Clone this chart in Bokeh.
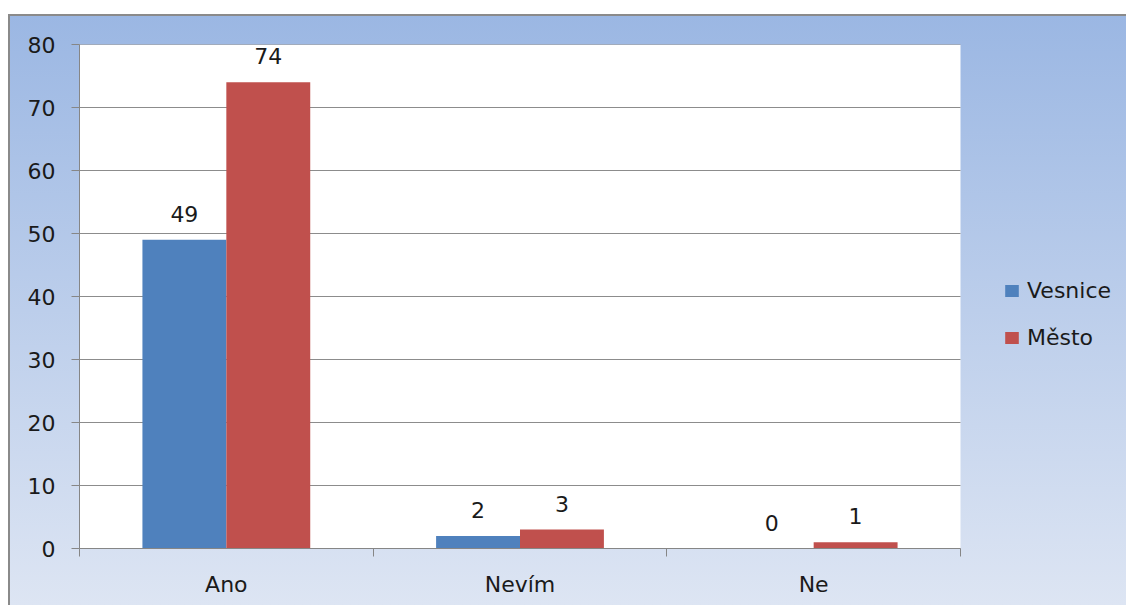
from bokeh.plotting import figure
from bokeh.models import (Range1d, FixedTicker, LabelSet, ColumnDataSource,
                          Legend, LegendItem, BoxAnnotation)
from bokeh.core.properties import value
from bokeh.embed import file_html
from bokeh.resources import INLINE

# Survey answers by place of residence
categories = ["Ano", "Nevím", "Ne"]
vesnice = [49, 2, 0]
mesto = [74, 3, 1]
series_names = ["Vesnice", "Město"]
y_ticks = [0, 10, 20, 30, 40, 50, 60, 70, 80]

BLUE = "#4F81BD"
RED = "#C0504D"
GRID = "#8c8c8c"
FONT = "DejaVu Sans"
FS = "22px"
BAR_W = 1 / 3.5  # two bars per category, gap of 1.5 bar widths

n = len(categories)
centers = [i + 0.5 for i in range(n)]
x_v = [c - BAR_W / 2 for c in centers]
x_m = [c + BAR_W / 2 for c in centers]

src_v = ColumnDataSource(dict(x=x_v, y=vesnice, lab=[str(v) for v in vesnice]))
src_m = ColumnDataSource(dict(x=x_m, y=mesto, lab=[str(v) for v in mesto]))

# the frame runs to the right edge so the legend can sit beside the plot area;
# the categories occupy the first 881 of its 1049 pixels
FRAME_W, AREA_W = 1049, 881
p = figure(width=1118, height=591, output_backend="svg", toolbar_location=None,
           x_range=Range1d(0, n * FRAME_W / AREA_W), y_range=Range1d(0, 80),
           min_border_left=69, min_border_top=28, min_border_right=0,
           min_border_bottom=59)
p.styles = {
    "margin": "14px 0 0 8px",
    "border-top": "2px solid #8a8a8a",
    "border-left": "2px solid #8a8a8a",
    "background": "linear-gradient(to bottom, #9bb7e3 0%, #dde5f3 100%)",
}
p.border_fill_color = None
p.background_fill_color = None
p.outline_line_color = None
p.xgrid.grid_line_color = None
p.ygrid.grid_line_color = None

# white plot area
p.add_layout(BoxAnnotation(left=0, right=n, bottom=0, top=80, fill_color="white",
                           fill_alpha=1, line_color=None, level="underlay"))

# horizontal gridlines across the plot area
p.segment(x0=[0] * len(y_ticks), x1=[n] * len(y_ticks), y0=y_ticks, y1=y_ticks,
          line_color=GRID, line_width=1)

rv = p.vbar(x="x", top="y", width=BAR_W, source=src_v, fill_color=BLUE, line_color=None)
rm = p.vbar(x="x", top="y", width=BAR_W, source=src_m, fill_color=RED, line_color=None)

for src in (src_v, src_m):
    p.add_layout(LabelSet(x="x", y="y", text="lab", source=src, y_offset=18,
                          text_align="center", text_baseline="alphabetic",
                          text_font=value(FONT), text_font_size=value(FS),
                          text_color="#1a1a1a"))

# y axis
p.yaxis.ticker = FixedTicker(ticks=y_ticks)
p.yaxis.axis_line_color = "#868686"
p.yaxis.major_tick_line_color = "#868686"
p.yaxis.major_tick_out = 8
p.yaxis.major_tick_in = 0
p.yaxis.minor_tick_line_color = None
p.yaxis.major_label_standoff = 16
p.yaxis.major_label_text_font = FONT
p.yaxis.major_label_text_font_size = FS
p.yaxis.major_label_text_color = "#1a1a1a"

# x axis: labels at category centres, tick marks on category boundaries
p.xaxis.bounds = (0, n)
p.xaxis.ticker = FixedTicker(ticks=centers, minor_ticks=list(range(n + 1)))
p.xaxis.major_label_overrides = {c: name for c, name in zip(centers, categories)}
p.xaxis.axis_line_color = "#868686"
p.xaxis.major_tick_line_color = None
p.xaxis.major_tick_out = 0
p.xaxis.major_tick_in = 0
p.xaxis.minor_tick_line_color = "#868686"
p.xaxis.minor_tick_out = 8
p.xaxis.minor_tick_in = 0
p.xaxis.major_label_standoff = 15
p.xaxis.major_label_text_font = FONT
p.xaxis.major_label_text_font_size = FS
p.xaxis.major_label_text_color = "#1a1a1a"

legend = Legend(items=[LegendItem(label=series_names[0], renderers=[rv]),
                       LegendItem(label=series_names[1], renderers=[rm])],
                location=(924, 198), orientation="vertical",
                glyph_width=17, glyph_height=15, label_height=24, spacing=22,
                label_standoff=7, padding=0, margin=0,
                background_fill_alpha=0, border_line_color=None,
                label_text_font=FONT, label_text_font_size=FS,
                label_text_color="#1a1a1a")
p.add_layout(legend, "center")

open("out.html", "w").write(file_html(p, INLINE))
